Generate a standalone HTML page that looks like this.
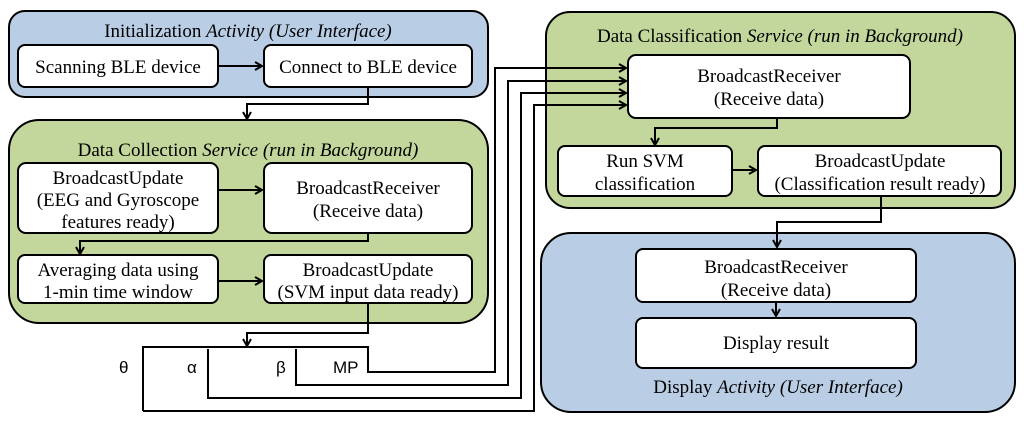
<!DOCTYPE html>
<html><head><meta charset="utf-8"><style>
html,body{margin:0;padding:0;background:#fff;}
svg{display:block;}
text{font-family:"Liberation Serif",serif;font-size:19px;fill:#000;}
.s{font-family:"Liberation Sans",sans-serif;font-size:17px;}
</style></head><body>
<svg width="1024" height="421" viewBox="0 0 1024 421" xmlns="http://www.w3.org/2000/svg">
<defs><marker id="a" markerWidth="10" markerHeight="10" refX="8" refY="5" orient="auto" markerUnits="userSpaceOnUse"><path d="M1,1 L8,5 L1,9" fill="none" stroke="#000" stroke-width="2"/></marker></defs>
<g stroke="#000" stroke-width="2">
<rect x="9" y="11" width="479" height="86" rx="16" fill="#b9cde5"/>
<rect x="9" y="120" width="479" height="203" rx="30" fill="#c3d69b"/>
<rect x="546" y="12" width="469" height="196" rx="24" fill="#c3d69b"/>
<rect x="541" y="233" width="474" height="179" rx="30" fill="#b9cde5"/>
<g fill="#fff">
<rect x="18" y="45" width="200" height="42" rx="7"/>
<rect x="264" y="45" width="208" height="42" rx="7"/>
<rect x="18" y="163" width="200" height="70" rx="8"/>
<rect x="264" y="163" width="208" height="70" rx="8"/>
<rect x="18" y="255" width="200" height="48" rx="7"/>
<rect x="264" y="255" width="208" height="48" rx="7"/>
<rect x="628" y="55" width="282" height="63" rx="8"/>
<rect x="558" y="146" width="174" height="50" rx="7"/>
<rect x="758" y="146" width="243" height="50" rx="7"/>
<rect x="636" y="249" width="280" height="53" rx="7"/>
<rect x="636" y="318" width="280" height="50" rx="7"/>
</g>
<g fill="none">
<line x1="218" y1="66" x2="262" y2="66" marker-end="url(#a)"/>
<polyline points="368,87 368,104 247,104 247,119" marker-end="url(#a)"/>
<line x1="218" y1="190" x2="262" y2="190" marker-end="url(#a)"/>
<polyline points="368,233 368,241 80,241 80,254" marker-end="url(#a)"/>
<line x1="218" y1="281" x2="262" y2="281" marker-end="url(#a)"/>
<polyline points="368,303 368,333 247,333 247,346" marker-end="url(#a)"/>
<polyline points="143,411 143,347 368,347 368,372 495,372 495,68 626,68" marker-end="url(#a)"/>
<polyline points="296,349 296,385 508,385 508,81 626,81" marker-end="url(#a)"/>
<polyline points="208,349 208,398 521,398 521,93 626,93" marker-end="url(#a)"/>
<polyline points="143,411 534,411 534,105 626,105" marker-end="url(#a)"/>
<polyline points="777,118 777,128 655,128 655,145" marker-end="url(#a)"/>
<line x1="732" y1="170" x2="756" y2="170" marker-end="url(#a)"/>
<polyline points="881,196 881,222 777,222 777,247" marker-end="url(#a)"/>
<line x1="776" y1="302" x2="776" y2="316" marker-end="url(#a)"/>
</g>
</g>
<g text-anchor="middle">
<text x="248" y="37">Initialization <tspan font-style="italic">Activity (User Interface)</tspan></text>
<text x="118" y="73">Scanning BLE device</text>
<text x="368" y="73">Connect to BLE device</text>
<text x="248" y="156">Data Collection <tspan font-style="italic">Service (run in Background)</tspan></text>
<text x="118" y="184">BroadcastUpdate</text>
<text x="118" y="206">(EEG and Gyroscope</text>
<text x="118" y="228">features ready)</text>
<text x="368" y="194">BroadcastReceiver</text>
<text x="368" y="217">(Receive data)</text>
<text x="118" y="276">Averaging data using</text>
<text x="118" y="298">1-min time window</text>
<text x="368" y="276">BroadcastUpdate</text>
<text x="368" y="298">(SVM input data ready)</text>
<text x="780" y="42">Data Classification <tspan font-style="italic">Service (run in Background)</tspan></text>
<text x="769" y="82">BroadcastReceiver</text>
<text x="769" y="105">(Receive data)</text>
<text x="645" y="167">Run SVM</text>
<text x="645" y="190">classification</text>
<text x="880" y="167">BroadcastUpdate</text>
<text x="880" y="190">(Classification result ready)</text>
<text x="776" y="273">BroadcastReceiver</text>
<text x="776" y="296">(Receive data)</text>
<text x="776" y="349">Display result</text>
<text x="778" y="393">Display <tspan font-style="italic">Activity (User Interface)</tspan></text>
</g>
<text class="s" x="119" y="373">θ</text>
<text class="s" x="187" y="373">α</text>
<text class="s" x="276" y="373">β</text>
<text class="s" x="333" y="373">MP</text>
</svg>
</body></html>
